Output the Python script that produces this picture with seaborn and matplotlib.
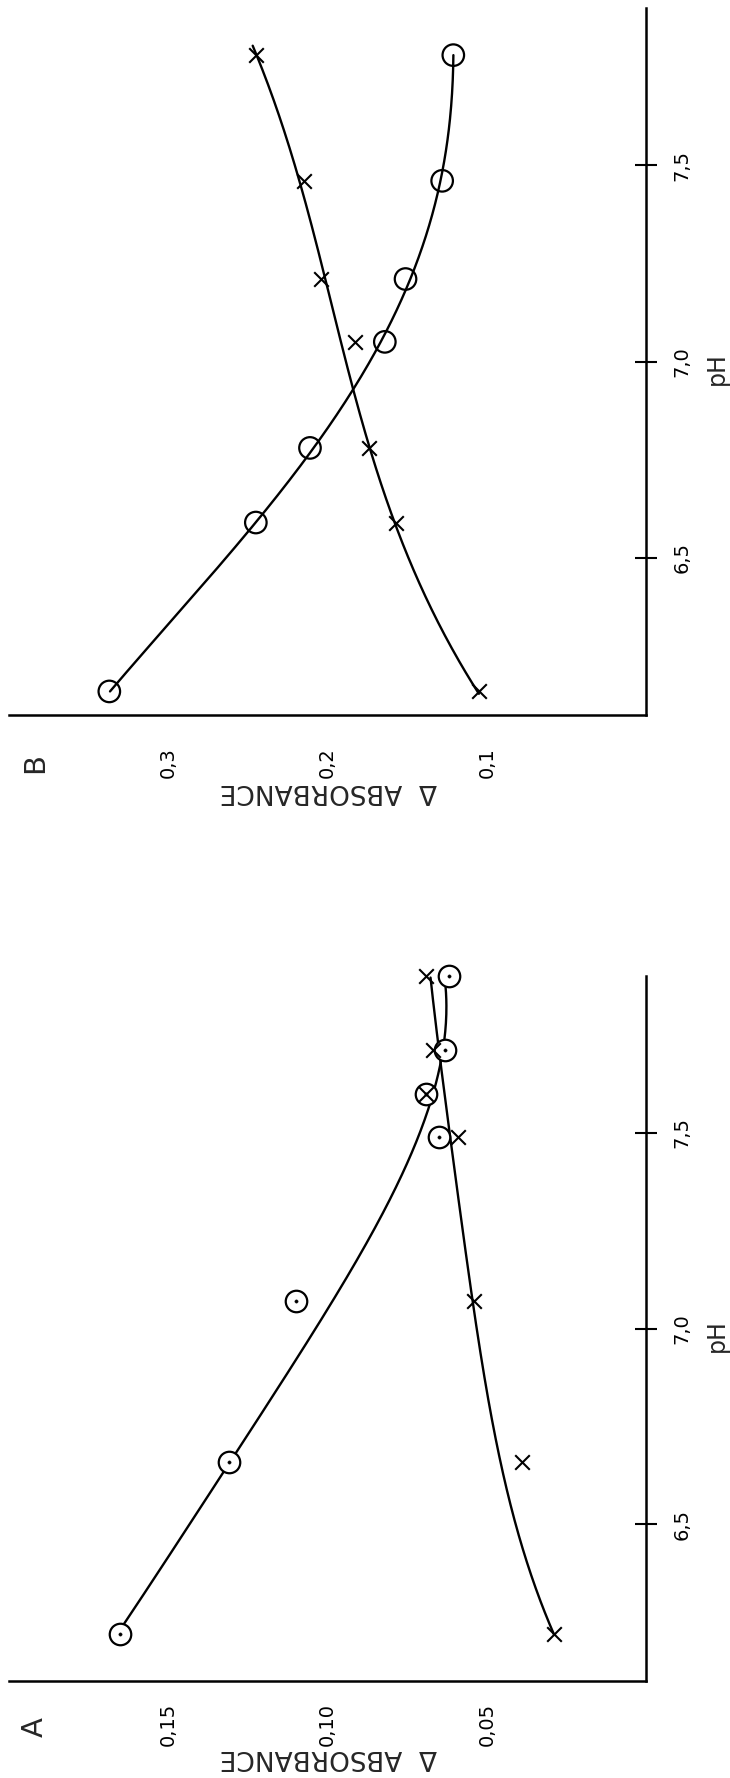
import numpy as np
import matplotlib
matplotlib.use("Agg")
import matplotlib.pyplot as plt
import seaborn as sns

# ---------------- Panel A ----------------
ph_a = [6.22, 6.66, 7.07, 7.49, 7.60, 7.71, 7.90]
absorb_a_circle = [0.165, 0.131, 0.110, 0.065, 0.069, 0.063, 0.062]
absorb_a_cross = [0.029, 0.039, 0.054, 0.059, 0.069, 0.067, 0.069]

# hand-drawn trend curves of panel A (pH, absorbance along each curve)
curve_a_circle_ph = [6.245, 6.656, 6.823, 6.939, 7.071, 7.173, 7.289, 7.406,
                     7.485, 7.581, 7.686, 7.814, 7.896]
curve_a_circle_abs = [0.164, 0.1307, 0.1173, 0.1087, 0.0988, 0.0909, 0.0830,
                      0.0758, 0.0711, 0.0672, 0.0648, 0.0635, 0.0626]
curve_a_cross_ph = [6.219, 6.356, 6.531, 6.648, 6.823, 7.068, 7.289, 7.478,
                    7.602, 7.709, 7.896]
curve_a_cross_abs = [0.0292, 0.0349, 0.0419, 0.0455, 0.0501, 0.0543, 0.0577,
                     0.0613, 0.0635, 0.0652, 0.0675]

# ---------------- Panel B ----------------
ph_b = [6.16, 6.59, 6.78, 7.05, 7.21, 7.46, 7.78]
absorb_b_circle = [0.337, 0.245, 0.211, 0.164, 0.151, 0.128, 0.121]
absorb_b_cross = [0.105, 0.157, 0.174, 0.183, 0.204, 0.215, 0.245]

curve_b_circle_ph = [6.160, 6.380, 6.588, 6.782, 6.929, 7.046, 7.208, 7.352,
                     7.460, 7.634, 7.780]
curve_b_circle_abs = [0.3366, 0.2895, 0.2445, 0.2106, 0.1838, 0.1639, 0.1509,
                      0.1356, 0.1283, 0.1230, 0.1209]
curve_b_cross_ph = [6.154, 6.588, 6.782, 6.929, 7.105, 7.205, 7.457, 7.610,
                    7.769, 7.804]
curve_b_cross_abs = [0.1052, 0.1565, 0.1743, 0.1838, 0.1942, 0.2037, 0.2162,
                     0.2277, 0.2445, 0.2470]

# ---------------- Axes ticks ----------------
ph_ticks = [6.5, 7.0, 7.5]
ph_tick_labels = ["6,5", "7,0", "7,5"]
abs_ticks_a = [0.05, 0.10, 0.15]
abs_tick_labels_a = ["0,05", "0,10", "0,15"]
abs_ticks_b = [0.1, 0.2, 0.3]
abs_tick_labels_b = ["0,1", "0,2", "0,3"]

sns.set_style("white")
plt.rcParams["font.family"] = ["DejaVu Sans"]

W, H = 730, 1778
fig = plt.figure(figsize=(W / 100, H / 100), dpi=100)
fig.patch.set_facecolor("white")


def px_rect(x0, y0, x1, y1):
    """Axes rectangle from pixel edges (origin at the top-left corner)."""
    return [x0 / W, 1 - y1 / H, (x1 - x0) / W, (y1 - y0) / H]


def smooth_curve(ph, ab, deg):
    coef = np.polyfit(ph, ab, deg)
    grid = np.linspace(min(ph), max(ph), 300)
    return grid, np.polyval(coef, grid)


def draw_panel(ax, ph, circ, cross, curves, abs_max, ticks, tick_labels,
               dotted, xpad):
    for cph, cab, deg in curves:
        g, v = smooth_curve(cph, cab, deg)
        sns.lineplot(x=v, y=g, orient="y", estimator=None, color="black",
                     lw=1.7, ax=ax)
    for line in ax.lines:
        line.set_clip_on(False)

    # open circles
    sns.scatterplot(x=circ, y=ph, marker="o", s=240, ax=ax)
    coll = ax.collections[-1]
    coll.set_facecolor("white" if dotted else "none")
    coll.set_edgecolor("black")
    coll.set_linewidth(1.6)
    coll.set_zorder(3)
    coll.set_clip_on(False)
    if dotted:
        sns.scatterplot(x=circ, y=ph, marker="o", s=6, ax=ax)
        dots = ax.collections[-1]
        dots.set_facecolor("black")
        dots.set_edgecolor("black")
        dots.set_zorder(4)
        dots.set_clip_on(False)

    # crosses
    sns.scatterplot(x=cross, y=ph, marker="x", s=110, ax=ax)
    xc = ax.collections[-1]
    xc.set_facecolor("black")
    xc.set_edgecolor("black")
    xc.set_linewidth(1.5)
    xc.set_zorder(5)
    xc.set_clip_on(False)

    ax.set_xlim(abs_max, 0)
    ax.set_ylim(6.1, 7.9)
    ax.set_facecolor("white")
    for side in ("top", "left"):
        ax.spines[side].set_visible(False)
    for side in ("right", "bottom"):
        ax.spines[side].set_visible(True)
        ax.spines[side].set_color("black")
        ax.spines[side].set_linewidth(1.8)

    ax.yaxis.tick_right()
    ax.yaxis.set_label_position("right")
    ax.set_xticks(ticks, tick_labels)
    ax.set_yticks(ph_ticks, ph_tick_labels)
    ax.tick_params(axis="both", direction="inout", length=16, width=1.5,
                   colors="black", labelsize=14)
    ax.tick_params(axis="x", labelrotation=90, pad=xpad)
    ax.tick_params(axis="y", labelrotation=90, pad=11)
    for lab in ax.get_yticklabels():
        lab.set_va("center")

    ax.set_xlabel("Δ  ABSORBANCE", fontsize=19, rotation=180)
    ax.xaxis.label.set_rotation_mode("default")
    ax.xaxis.label.set_ha("center")
    ax.xaxis.label.set_va("center")
    ax.xaxis.set_label_coords(0.502, -0.108)

    ax.set_ylabel("pH", fontsize=17, rotation=90)
    ax.yaxis.label.set_rotation_mode("default")
    ax.yaxis.label.set_ha("center")
    ax.yaxis.label.set_va("center")
    ax.yaxis.set_label_coords(1.1115, 0.49)
    ax.grid(False)


ax_b = fig.add_axes(px_rect(9, 8, 646, 715))
draw_panel(ax_b, ph_b, absorb_b_circle, absorb_b_cross,
           [(curve_b_circle_ph, curve_b_circle_abs, 4),
            (curve_b_cross_ph, curve_b_cross_abs, 3)],
           0.4, abs_ticks_b, abs_tick_labels_b, dotted=False, xpad=15)

ax_a = fig.add_axes(px_rect(9, 976, 646, 1681))
draw_panel(ax_a, ph_a, absorb_a_circle, absorb_a_cross,
           [(curve_a_circle_ph, curve_a_circle_abs, 4),
            (curve_a_cross_ph, curve_a_cross_abs, 4)],
           0.2, abs_ticks_a, abs_tick_labels_a, dotted=True, xpad=8)

# panel letters
fig.text(35 / W, 1 - 763 / H, "B", rotation=90, fontsize=21,
         ha="center", va="center")
fig.text(35 / W, 1 - 1727 / H, "A", rotation=90, fontsize=21,
         ha="center", va="center")

fig.savefig("out.png", dpi=100, facecolor="white")
